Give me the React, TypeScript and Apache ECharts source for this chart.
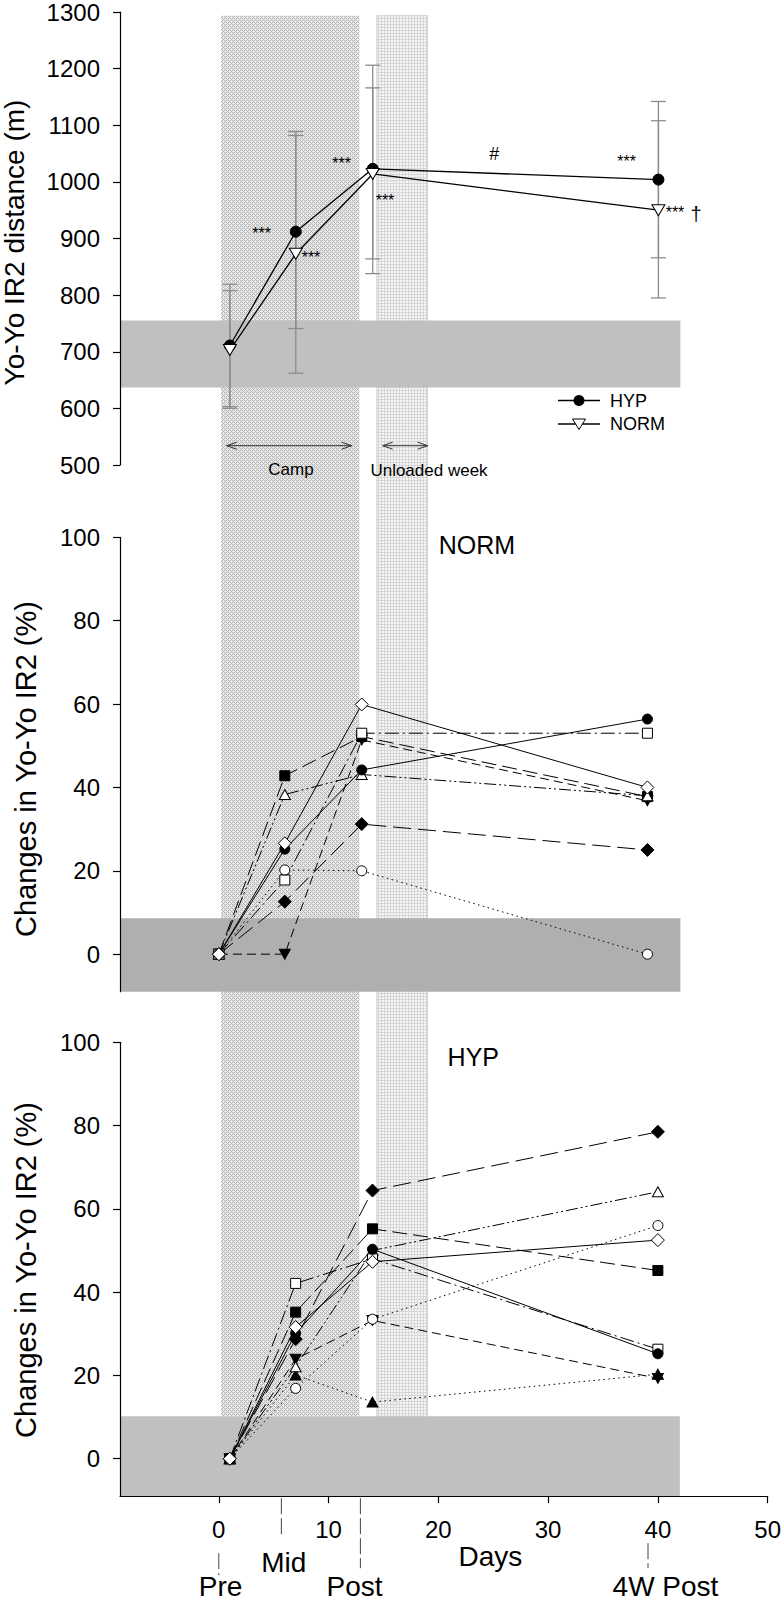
import React, { useEffect, useRef } from "react";
import * as echarts from "echarts";

const FONT = "'Liberation Sans', Arial, Helvetica, sans-serif";

// ---------- Top panel: group means with SD ----------
const topDays = [1, 7, 14, 40];
const hypMean = [711, 912, 1023, 1004];
const hypUpper = [819, 1089, 1206, 1142];
const hypLower = [603, 741, 838, 866];
const normMean = [703, 873, 1014, 950];
const normUpper = [808, 1082, 1166, 1108];
const normLower = [600, 662, 864, 795];

// grey reference bands (value ranges)
const bandTopPanel = [637, 755];
const bandNormPanel = [-9, 8.6];
const bandHypPanel = [-9, 10.2];
const bandDays = [-9, 42];

// shaded periods (days)
const campDays = [0.2, 12.8];
const unloadedDays = [14.4, 19.0];

// axis ticks
const xTickValues = [0, 10, 20, 30, 40, 50];
const pctTickValues = [0, 20, 40, 60, 80, 100];

// ---------- Individual changes (%) ----------
const normDays = [0, 6, 13, 39];
const normFilledCircle = [0, 25.2, 44.2, 56.4];
const normOpenCircle = [0, 20.2, 20.0, 0];
const normFilledDownTri = [0, 0, 51.4, 36.8];
const normOpenTri = [0, 38.3, 43.1, 38.0];
const normFilledSquare = [0, 42.8, 52.2, 37.8];
const normOpenSquare = [0, 17.8, 53.0, 53.0];
const normFilledDiamond = [0, 12.6, 31.2, 25.0];
const normOpenDiamond = [0, 26.6, 59.9, 40.0];

const hypDays = [1, 7, 14, 40];
const hypFilledCircle = [0, 30.1, 50.3, 25.2];
const hypOpenCircle = [0, 16.9, 33.5, 56.0];
const hypFilledDownTri = [0, 23.9, 33.2, 19.3];
const hypOpenTri = [0, 22.1, 50.0, 64.1];
const hypFilledSquare = [0, 35.2, 55.2, 45.2];
const hypOpenSquare = [0, 42.1, 48.0, 26.3];
const hypFilledDiamond = [0, 28.7, 64.4, 78.5];
const hypOpenDiamond = [0, 31.6, 47.3, 52.5];
const hypFilledUpTri = [0, 20.1, 13.6, 20.3];

// phase markers under the x axis
const phaseNames = ["Pre", "Mid", "Post", "4W Post"];
const phaseDays = [0, 5.7, 12.9, 39.1];

type St = { symbol: string; size: number | number[]; rotate?: number; fill: string; dash: any };
const ST: Record<string, St> = {
  FC: { symbol: "circle", size: 10, fill: "#000", dash: "solid" },
  OC: { symbol: "circle", size: 10, fill: "#fff", dash: [1.5, 3.5] },
  FDT: { symbol: "triangle", size: [11, 10], rotate: 180, fill: "#000", dash: [9, 5] },
  OT: { symbol: "triangle", size: [11, 10], fill: "#fff", dash: [12, 3, 2, 3, 2, 3] },
  FS: { symbol: "rect", size: 10, fill: "#000", dash: [15, 6] },
  OS: { symbol: "rect", size: 10, fill: "#fff", dash: [14, 4, 2, 4] },
  FD: { symbol: "diamond", size: 13, fill: "#000", dash: [18, 7] },
  OD: { symbol: "diamond", size: 13, fill: "#fff", dash: "solid" },
  FUT: { symbol: "triangle", size: [11, 10], fill: "#000", dash: [1.5, 3.5] },
};

function subject(values: number[], days: number[], st: St, idx: number) {
  return {
    type: "line",
    xAxisIndex: idx,
    yAxisIndex: idx,
    z: 3,
    silent: true,
    showAllSymbol: true,
    data: days.map((d, i) => [d, values[i]]),
    symbol: st.symbol,
    symbolSize: st.size,
    symbolRotate: st.rotate || 0,
    itemStyle: { color: st.fill, borderColor: "#000", borderWidth: 1, opacity: 1 },
    lineStyle: { color: "#000", width: 1, type: st.dash },
  };
}

function bandSeries(idx: number, range: number[]) {
  return {
    type: "custom",
    xAxisIndex: idx,
    yAxisIndex: idx,
    z: 1,
    silent: true,
    data: [[bandDays[0], range[0], bandDays[1], range[1]]],
    renderItem: (_p: any, api: any) => {
      const a = api.coord([api.value(0), api.value(3)]);
      const b = api.coord([api.value(2), api.value(1)]);
      return {
        type: "rect",
        shape: { x: a[0], y: a[1], width: b[0] - a[0], height: b[1] - a[1] },
        style: { fill: idx === 1 ? "#afafaf" : "#c0c0c0" },
      };
    },
  };
}

function errSeries(lo: number[], hi: number[]) {
  return {
    type: "custom",
    xAxisIndex: 0,
    yAxisIndex: 0,
    z: 2,
    silent: true,
    data: topDays.map((d, i) => [d, lo[i], hi[i]]),
    renderItem: (_p: any, api: any) => {
      const pl = api.coord([api.value(0), api.value(1)]);
      const ph = api.coord([api.value(0), api.value(2)]);
      const w = 7.5;
      const s = { stroke: "#8c8c8c", lineWidth: 1.3 };
      return {
        type: "group",
        children: [
          { type: "line", shape: { x1: pl[0], y1: pl[1], x2: ph[0], y2: ph[1] }, style: s },
          { type: "line", shape: { x1: pl[0] - w, y1: pl[1], x2: pl[0] + w, y2: pl[1] }, style: s },
          { type: "line", shape: { x1: ph[0] - w, y1: ph[1], x2: ph[0] + w, y2: ph[1] }, style: s },
        ],
      };
    },
  };
}

const axisCommon = {
  z: 5,
  axisLine: { show: true, onZero: false, lineStyle: { color: "#000", width: 1.2 } },
  axisTick: { show: true, length: 7, lineStyle: { color: "#000", width: 1.2 } },
  splitLine: { show: false },
};

const labelStyle = { color: "#000", fontSize: 24, fontFamily: FONT, formatter: (v: number) => String(v) };

function txt(text: string, x: number, y: number, size: number, extra: any = {}) {
  return {
    type: "text",
    x,
    y,
    z: 10,
    silent: true,
    style: { text, fontSize: size, fontFamily: FONT, fill: "#000", align: "center", verticalAlign: "middle" },
    ...extra,
  };
}

function arrow(x1: number, x2: number, y: number) {
  const s = { stroke: "#333", lineWidth: 1, fill: "none" };
  return [
    { type: "line", z: 10, shape: { x1, y1: y, x2, y2: y }, style: s },
    { type: "polyline", z: 10, shape: { points: [[x1 + 10, y - 3.5], [x1, y], [x1 + 10, y + 3.5]] }, style: s },
    { type: "polyline", z: 10, shape: { points: [[x2 - 10, y - 3.5], [x2, y], [x2 - 10, y + 3.5]] }, style: s },
  ];
}

function makePattern(kind: "camp" | "unloaded") {
  const c = document.createElement("canvas");
  const ctx = c.getContext("2d")!;
  if (kind === "camp") {
    const n = 4;
    c.width = n;
    c.height = n;
    const map = ["DLDL", "LDLL", "DLDL", "LLLD"];
    for (let y = 0; y < n; y++)
      for (let x = 0; x < n; x++) {
        ctx.fillStyle = map[y][x] === "D" ? "#b4b4b4" : "#e9e9e9";
        ctx.fillRect(x, y, 1, 1);
      }
    return { image: c, repeat: "repeat", imageWidth: n, imageHeight: n };
  }
  const n = 3;
  c.width = n;
  c.height = n;
  ctx.fillStyle = "#f6f6f6";
  ctx.fillRect(0, 0, n, n);
  ctx.fillStyle = "#d6d6d6";
  ctx.fillRect(0, 0, n, 1);
  ctx.fillRect(0, 0, 1, n);
  return { image: c, repeat: "repeat", imageWidth: n, imageHeight: n };
}

export default function App() {
  const ref = useRef<HTMLDivElement>(null);
  useEffect(() => {
    const chart = echarts.init(ref.current!, null, { renderer: "svg" });
    const gridL = 120;
    const gridW = 648.3;
    const option: any = {
      animation: false,
      backgroundColor: "#fff",
      grid: [
        { left: gridL, width: gridW, top: 11.3, height: 453.7 },
        { left: gridL, width: gridW, top: 537.3, height: 454.4 },
        { left: gridL, width: gridW, top: 1042.3, height: 453.9 },
      ],
      xAxis: [
        { type: "value", gridIndex: 0, min: -9, max: 50, show: false },
        { type: "value", gridIndex: 1, min: -9, max: 50, show: false },
        {
          type: "value",
          gridIndex: 2,
          min: -9,
          max: 50,
          ...axisCommon,
          axisTick: { ...axisCommon.axisTick, customValues: xTickValues },
          axisLabel: { ...labelStyle, margin: 21, customValues: xTickValues },
        },
      ],
      yAxis: [
        {
          type: "value",
          gridIndex: 0,
          min: 500,
          max: 1300,
          interval: 100,
          ...axisCommon,
          axisLabel: { ...labelStyle, margin: 20 },
        },
        {
          type: "value",
          gridIndex: 1,
          min: -9,
          max: 100,
          ...axisCommon,
          axisTick: { ...axisCommon.axisTick, customValues: pctTickValues },
          axisLabel: { ...labelStyle, margin: 20, customValues: pctTickValues },
        },
        {
          type: "value",
          gridIndex: 2,
          min: -9,
          max: 100,
          ...axisCommon,
          axisTick: { ...axisCommon.axisTick, customValues: pctTickValues },
          axisLabel: { ...labelStyle, margin: 20, customValues: pctTickValues },
        },
      ],
      series: [
        bandSeries(0, bandTopPanel),
        bandSeries(1, bandNormPanel),
        bandSeries(2, bandHypPanel),
        errSeries(hypLower, hypUpper),
        errSeries(normLower, normUpper),
        {
          type: "line",
          xAxisIndex: 0,
          yAxisIndex: 0,
          z: 3,
          silent: true,
          data: topDays.map((d, i) => [d, hypMean[i]]),
          symbol: "circle",
          symbolSize: 11,
          itemStyle: { color: "#000", borderColor: "#000", borderWidth: 1 },
          lineStyle: { color: "#000", width: 1.3 },
        },
        {
          type: "line",
          xAxisIndex: 0,
          yAxisIndex: 0,
          z: 3,
          silent: true,
          data: topDays.map((d, i) => [d, normMean[i]]),
          symbol: "triangle",
          symbolRotate: 180,
          symbolSize: [13, 11],
          itemStyle: { color: "#fff", borderColor: "#000", borderWidth: 1 },
          lineStyle: { color: "#000", width: 1.3 },
        },
        subject(normFilledDiamond, normDays, ST.FD, 1),
        subject(normFilledSquare, normDays, ST.FS, 1),
        subject(normFilledDownTri, normDays, ST.FDT, 1),
        subject(normOpenTri, normDays, ST.OT, 1),
        subject(normOpenSquare, normDays, ST.OS, 1),
        subject(normOpenCircle, normDays, ST.OC, 1),
        subject(normFilledCircle, normDays, ST.FC, 1),
        subject(normOpenDiamond, normDays, ST.OD, 1),
        subject(hypFilledUpTri, hypDays, ST.FUT, 2),
        subject(hypFilledDownTri, hypDays, ST.FDT, 2),
        subject(hypOpenCircle, hypDays, ST.OC, 2),
        subject(hypOpenTri, hypDays, ST.OT, 2),
        subject(hypOpenSquare, hypDays, ST.OS, 2),
        subject(hypFilledCircle, hypDays, ST.FC, 2),
        subject(hypFilledDiamond, hypDays, ST.FD, 2),
        subject(hypFilledSquare, hypDays, ST.FS, 2),
        subject(hypOpenDiamond, hypDays, ST.OD, 2),
      ],
    };
    chart.setOption(option);

    const px = (d: number) => chart.convertToPixel({ xAxisIndex: 2 }, d) as number;
    const yShadeTop = chart.convertToPixel({ yAxisIndex: 0 }, 1293.5) as number;
    const yShadeBot = chart.convertToPixel({ yAxisIndex: 2 }, bandHypPanel[1]) as number;
    const yAxisBot = chart.convertToPixel({ yAxisIndex: 2 }, -9) as number;

    const graphic: any[] = [];
    graphic.push({
      type: "rect",
      z: 0,
      silent: true,
      shape: { x: px(campDays[0]), y: yShadeTop, width: px(campDays[1]) - px(campDays[0]), height: yShadeBot - yShadeTop },
      style: { fill: makePattern("camp") },
    });
    graphic.push({
      type: "rect",
      z: 0,
      silent: true,
      shape: { x: px(unloadedDays[0]), y: yShadeTop, width: px(unloadedDays[1]) - px(unloadedDays[0]), height: yShadeBot - yShadeTop },
      style: { fill: makePattern("unloaded"), stroke: "#d0d0d0", lineWidth: 1 },
    });

    // axis titles
    graphic.push(txt("Yo-Yo IR2 distance (m)", 14, 242.5, 28, { rotation: Math.PI / 2 }));
    graphic.push(txt("Changes in Yo-Yo IR2 (%)", 26, 769, 29, { rotation: Math.PI / 2 }));
    graphic.push(txt("Changes in Yo-Yo IR2 (%)", 26, 1270, 29, { rotation: Math.PI / 2 }));

    // significance marks
    graphic.push(txt("***", 261.7, 233, 16));
    graphic.push(txt("***", 311, 257, 16));
    graphic.push(txt("***", 341.7, 163, 16));
    graphic.push(txt("***", 385, 200.5, 16));
    graphic.push(txt("#", 494.3, 154, 18));
    graphic.push(txt("***", 626.7, 161, 16));
    graphic.push(txt("***", 675, 212, 16));
    graphic.push(txt("\u2020", 696, 214, 20));

    // legend
    graphic.push({ type: "line", z: 10, shape: { x1: 558, y1: 400.5, x2: 600, y2: 400.5 }, style: { stroke: "#000", lineWidth: 1.3 } });
    graphic.push({ type: "circle", z: 11, shape: { cx: 579, cy: 400.5, r: 5.5 }, style: { fill: "#000" } });
    graphic.push({ type: "line", z: 10, shape: { x1: 558, y1: 424, x2: 600, y2: 424 }, style: { stroke: "#000", lineWidth: 1.3 } });
    graphic.push({ type: "polygon", z: 11, shape: { points: [[572.5, 419], [585.5, 419], [579, 429.5]] }, style: { fill: "#fff", stroke: "#000", lineWidth: 1 } });
    graphic.push(txt("HYP", 610, 400.5, 18, { style: { text: "HYP", fontSize: 18, fontFamily: FONT, fill: "#000", align: "left", verticalAlign: "middle" } }));
    graphic.push(txt("NORM", 610, 424, 18, { style: { text: "NORM", fontSize: 18, fontFamily: FONT, fill: "#000", align: "left", verticalAlign: "middle" } }));

    // period arrows and labels
    graphic.push(...arrow(226.7, 351.7, 445.7));
    graphic.push(...arrow(382.7, 427.7, 445.7));
    graphic.push(txt("Camp", 291, 469.5, 17));
    graphic.push(txt("Unloaded week", 429, 470.5, 17));

    // panel labels
    graphic.push(txt("NORM", 477, 545, 25));
    graphic.push(txt("HYP", 473.3, 1057, 25));

    // bottom labels
    graphic.push(txt("Days", 490.4, 1556, 28));
    const lineY = [
      [yAxisBot + 57, yAxisBot + 79],
      [yAxisBot + 2, yAxisBot + 42],
      [yAxisBot + 2, yAxisBot + 72],
      [yAxisBot + 47, yAxisBot + 72],
    ];
    const labY = [1586, 1562, 1586, 1586];
    const labX = [220.5, 283.8, 354.5, 665.5];
    phaseNames.forEach((n, i) => {
      const x = px(phaseDays[i]);
      graphic.push({
        type: "line",
        z: 10,
        shape: { x1: x, y1: lineY[i][0], x2: x, y2: lineY[i][1] },
        style: { stroke: "#444", lineWidth: 1, lineDash: [16, 4] },
      });
      graphic.push(txt(n, labX[i], labY[i], 28));
    });

    chart.setOption({ graphic });
    return () => chart.dispose();
  }, []);
  return <div ref={ref} style={{ position: "absolute", left: 0, top: 0, width: 784, height: 1603 }} />;
}
